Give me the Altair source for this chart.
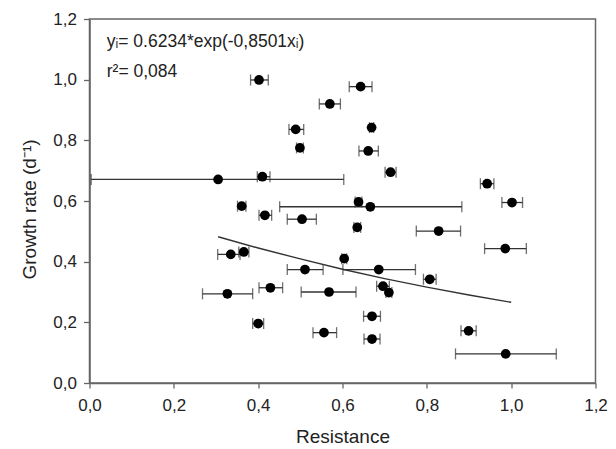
import altair as alt
import pandas as pd

# Data
res_x = [0.402, 0.643, 0.570, 0.489, 0.669, 0.499, 0.661, 0.714, 0.305, 0.410,
         0.943, 0.361, 1.002, 0.638, 0.666, 0.416, 0.504, 0.635, 0.828, 0.986,
         0.366, 0.335, 0.604, 0.511, 0.686, 0.807, 0.696, 0.429, 0.710, 0.568,
         0.327, 0.670, 0.400, 0.899, 0.556, 0.670, 0.987]
growth_y = [0.999, 0.977, 0.920, 0.836, 0.842, 0.775, 0.765, 0.695, 0.671, 0.680,
            0.657, 0.583, 0.595, 0.597, 0.581, 0.553, 0.540, 0.513, 0.501, 0.443,
            0.432, 0.424, 0.410, 0.374, 0.374, 0.342, 0.319, 0.314, 0.298, 0.300,
            0.294, 0.220, 0.196, 0.172, 0.166, 0.145, 0.096]
res_lo = [0.382, 0.616, 0.545, 0.473, 0.664, 0.491, 0.639, 0.701, 0.004, 0.398,
          0.927, 0.351, 0.978, 0.630, 0.451, 0.402, 0.469, 0.627, 0.775, 0.937,
          0.354, 0.304, 0.598, 0.469, 0.601, 0.792, 0.681, 0.402, 0.703, 0.502,
          0.268, 0.650, 0.387, 0.881, 0.530, 0.651, 0.868]
res_hi = [0.424, 0.670, 0.595, 0.508, 0.674, 0.507, 0.685, 0.727, 0.603, 0.428,
          0.959, 0.371, 1.027, 0.646, 0.883, 0.432, 0.538, 0.643, 0.880, 1.036,
          0.378, 0.357, 0.610, 0.554, 0.773, 0.822, 0.711, 0.458, 0.717, 0.632,
          0.387, 0.690, 0.413, 0.917, 0.586, 0.689, 1.107]

# Fitted curve, points
fit_x = [0.305, 0.4, 0.5, 0.6, 0.7, 0.8, 0.9, 1.0]
fit_y = [0.482, 0.445, 0.409, 0.375, 0.344, 0.316, 0.290, 0.266]

ann_text = ["yᵢ= 0.6234*exp(-0,8501xᵢ)", "r²= 0,084"]
ann_x = [0.041, 0.041]
ann_y = [1.124, 1.025]

tick_vals = [0, 0.2, 0.4, 0.6, 0.8, 1.0, 1.2]

pts = pd.DataFrame({"x": res_x, "y": growth_y, "lo": res_lo, "hi": res_hi})
fit = pd.DataFrame({"x": fit_x, "y": fit_y})
ann = pd.DataFrame({"t": ann_text, "x": ann_x, "y": ann_y})

FONT = "Liberation Sans"
label_expr = "replace(format(datum.value, '.1f'), '.', ',')"

xscale = alt.Scale(domain=[0, 1.2], nice=False, zero=False)
yscale = alt.Scale(domain=[0, 1.2], nice=False, zero=False)

common = dict(values=tick_vals, labelExpr=label_expr, grid=False,
              domainColor="#666666", domainWidth=1.5, tickColor="#666666",
              tickWidth=1.3, labelFont=FONT, labelFontSize=17,
              labelColor="#222222", labelFlush=False, titleFont=FONT,
              titleFontSize=19, titleFontWeight="normal", titleColor="#222222")

xaxis = alt.Axis(title="Resistance", tickSize=5, labelBaseline="middle",
                 labelPadding=17, titleBaseline="middle", titleY=53, **common)
yaxis = alt.Axis(title="Growth rate (d⁻¹)", tickSize=6, labelPadding=7,
                 titleAngle=270, titleBaseline="middle", titleX=-60,
                 titleY=190, **common)

base = alt.Chart(pts)

bars = base.mark_rule(color="#333333", strokeWidth=1.3).encode(
    x=alt.X("lo:Q", scale=xscale, axis=xaxis),
    x2="hi:Q",
    y=alt.Y("y:Q", scale=yscale, axis=yaxis),
)
cap_lo = base.mark_tick(color="#333333", orient="vertical", size=11, thickness=1.3).encode(
    x=alt.X("lo:Q", scale=xscale), y=alt.Y("y:Q", scale=yscale))
cap_hi = base.mark_tick(color="#333333", orient="vertical", size=11, thickness=1.3).encode(
    x=alt.X("hi:Q", scale=xscale), y=alt.Y("y:Q", scale=yscale))
dots = base.mark_circle(color="black", opacity=1, size=95).encode(
    x=alt.X("x:Q", scale=xscale), y=alt.Y("y:Q", scale=yscale))

curve = alt.Chart(fit).mark_line(color="#333333", strokeWidth=1.4).encode(
    x=alt.X("x:Q", scale=xscale), y=alt.Y("y:Q", scale=yscale), order="x:Q")

texts = alt.Chart(ann).mark_text(align="left", baseline="middle", font=FONT,
                                 fontSize=17.5, color="#222222").encode(
    x=alt.X("x:Q", scale=xscale), y=alt.Y("y:Q", scale=yscale), text="t:N")

chart = alt.layer(bars, cap_lo, cap_hi, curve, dots, texts).properties(
    width=506, height=364,
    autosize=alt.AutoSizeParams(type="none"),
    padding={"left": 81.5, "top": 11, "right": 12, "bottom": 64},
    background="white",
).configure_view(stroke="#666666", strokeWidth=1.5)

chart.save("out.html", embed_options={"renderer": "svg", "actions": False})
